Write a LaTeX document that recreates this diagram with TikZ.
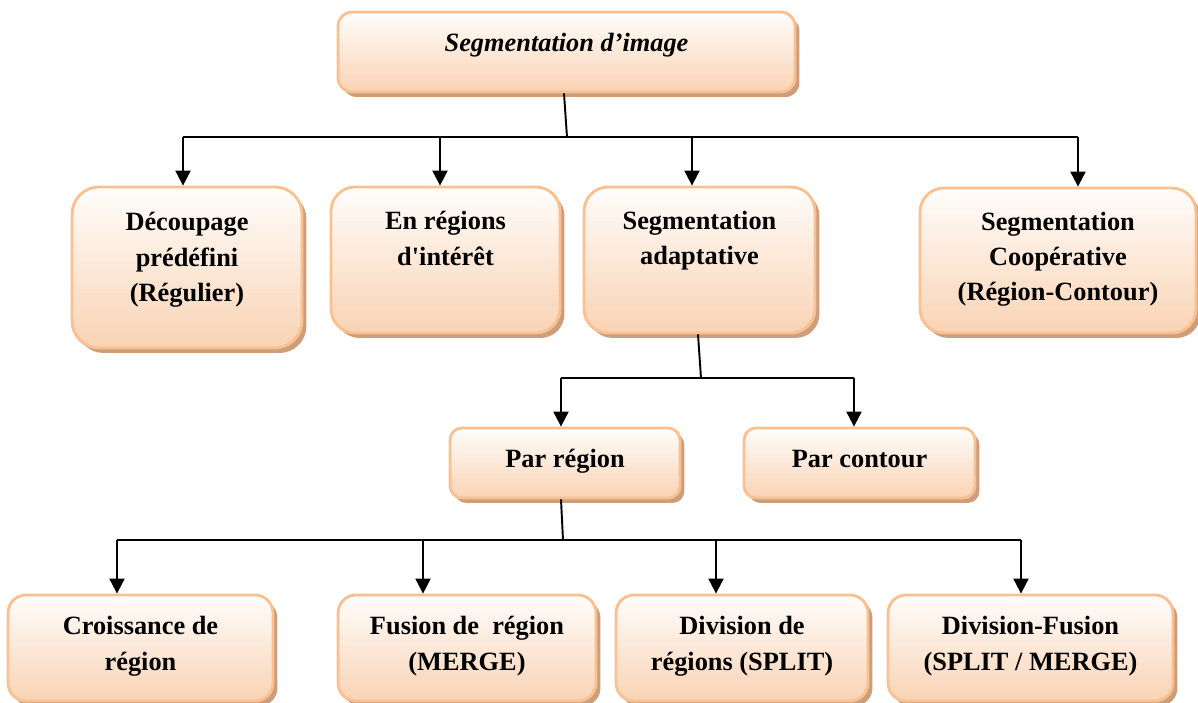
\documentclass[tikz,border=0pt]{standalone}
\usepackage{fontspec}
\newfontfamily\boxfont{Liberation Serif}
\usetikzlibrary{shadows,arrows.meta}

\definecolor{boxline}{RGB}{250,192,143}
\definecolor{boxlow}{RGB}{249,211,180}
\definecolor{boxhigh}{RGB}{255,253,251}
\definecolor{boxshade}{RGB}{204,158,124}

\tikzset{
  card/.style={draw=boxline, line width=1.6pt, top color=boxhigh, bottom color=boxlow,
    inner sep=0pt,
    drop shadow={shadow xshift=0.09cm, shadow yshift=-0.1cm, fill=boxshade, opacity=1}},
  boxtext/.style={font=\boxfont\bfseries\fontsize{15}{20}\selectfont, align=center,
    anchor=north, inner sep=0pt},
  link/.style={line width=1.1pt, black},
  arr/.style={link, -{Triangle[length=0.3cm,width=0.3cm]}},
}

\begin{document}
\begin{tikzpicture}[x=0.02cm, y=-0.02cm]
\useasboundingbox (0,0) rectangle (1198,703);

% level 0
\node[card, minimum width=9.14cm, minimum height=1.6cm, rounded corners=0.28cm] (root) at (566.5,52) {};
\node[boxtext] (root-t) at ([yshift=-8.8pt]root.north) {\itshape\strut Segmentation d’image};

% level 1
\node[card, minimum width=4.6cm, minimum height=3.22cm, rounded corners=0.54cm] (dec) at (187,267.5) {};
\node[boxtext] (dec-t) at ([yshift=-11.6pt]dec.north) {\strut Découpage\\prédéfini\\(Régulier)};

\node[card, minimum width=4.58cm, minimum height=2.92cm, rounded corners=0.48cm] (enr) at (445.5,260) {};
\node[boxtext] (enr-t) at ([yshift=-11pt]enr.north) {\strut En régions\\d'intérêt};

\node[card, minimum width=4.62cm, minimum height=2.92cm, rounded corners=0.48cm] (seg) at (699.5,260) {};
\node[boxtext] (seg-t) at ([yshift=-10.5pt]seg.north) {\strut Segmentation\\adaptative};

\node[card, minimum width=5.52cm, minimum height=2.9cm, rounded corners=0.48cm] (coop) at (1058,260.5) {};
\node[boxtext] (coop-t) at ([yshift=-10.5pt]coop.north) {\strut Segmentation\\Coopérative\\(Région-Contour)};

% level 2
\node[card, minimum width=4.6cm, minimum height=1.4cm, rounded corners=0.24cm] (parr) at (565,463) {};
\node[boxtext] (parr-t) at ([yshift=-8.8pt]parr.north) {\strut Par région};

\node[card, minimum width=4.62cm, minimum height=1.4cm, rounded corners=0.24cm] (parc) at (859.5,463) {};
\node[boxtext] (parc-t) at ([yshift=-8.8pt]parc.north) {\strut Par contour};

% level 3
\node[card, minimum width=5.3cm, minimum height=2.12cm, rounded corners=0.36cm] (croi) at (140.5,648) {};
\node[boxtext] (croi-t) at ([yshift=-9.3pt]croi.north) {\strut Croissance de\\région};

\node[card, minimum width=5.16cm, minimum height=2.12cm, rounded corners=0.36cm] (fus) at (467,648) {};
\node[boxtext] (fus-t) at ([yshift=-9.3pt]fus.north) {\strut Fusion de~ région\\(MERGE)};

\node[card, minimum width=5.04cm, minimum height=2.12cm, rounded corners=0.36cm] (div) at (742,648) {};
\node[boxtext] (div-t) at ([yshift=-9.3pt]div.north) {\strut Division de\\régions (SPLIT)};

\node[card, minimum width=5.7cm, minimum height=2.12cm, rounded corners=0.36cm] (divf) at (1030.5,648) {};
\node[boxtext] (divf-t) at ([yshift=-9.3pt]divf.north) {\strut Division-Fusion\\(SPLIT / MERGE)};

% entry points of the arrows on the box tops
\path ([xshift=-0.08cm]dec.north)  coordinate (dec-in)
      ([xshift=-0.11cm]enr.north)  coordinate (enr-in)
      ([xshift=-0.15cm]seg.north)  coordinate (seg-in)
      ([xshift=0.4cm]coop.north)   coordinate (coop-in)
      ([xshift=-0.08cm]parr.north) coordinate (parr-in)
      ([xshift=-0.11cm]parc.north) coordinate (parc-in)
      ([xshift=-0.47cm]croi.north) coordinate (croi-in)
      ([xshift=-0.88cm]fus.north)  coordinate (fus-in)
      ([xshift=-0.52cm]div.north)  coordinate (div-in)
      ([xshift=-0.19cm]divf.north) coordinate (divf-in);

% branch under the root
\coordinate (h1) at (567,137);
\draw[link] ([xshift=-0.05cm]root.south) -- (h1);
\draw[link] (dec-in |- h1) -- (coop-in |- h1);
\foreach \t in {dec,enr,seg,coop}
  \draw[arr] (\t-in |- h1) -- (\t-in);

% branch under the adaptive segmentation
\coordinate (h2) at (701,378);
\draw[link] ([xshift=-0.03cm]seg.south) -- (h2);
\draw[link] (parr-in |- h2) -- (parc-in |- h2);
\foreach \t in {parr,parc}
  \draw[arr] (\t-in |- h2) -- (\t-in);

% branch under the region approach
\coordinate (h3) at (563,540);
\draw[link] ([xshift=-0.08cm]parr.south) -- (h3);
\draw[link] (croi-in |- h3) -- (divf-in |- h3);
\foreach \t in {croi,fus,div,divf}
  \draw[arr] (\t-in |- h3) -- (\t-in);
\end{tikzpicture}
\end{document}
